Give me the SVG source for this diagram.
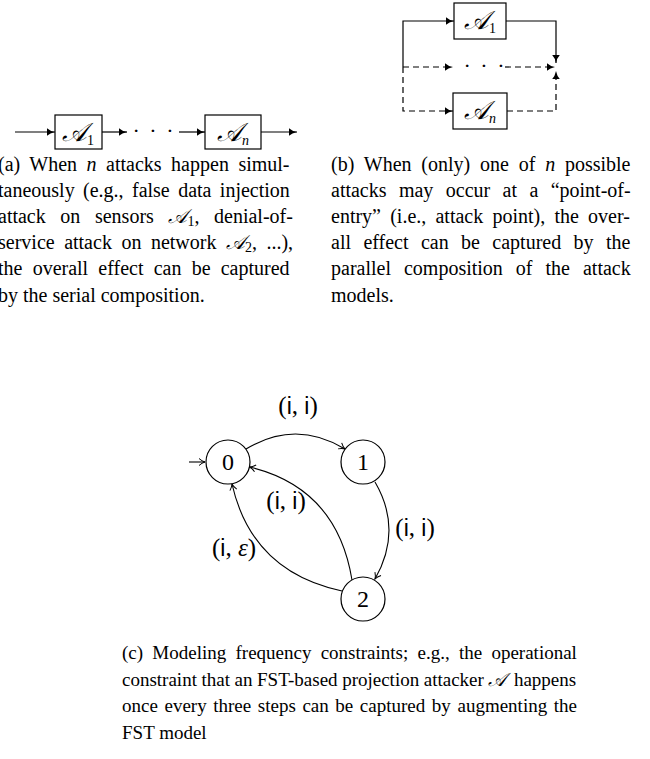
<svg xmlns="http://www.w3.org/2000/svg" width="650" height="759" viewBox="0 0 650 759">
<style>
  .cap { font-family: "Liberation Serif", "Times New Roman", serif; font-size: 20px; fill: #000; }
  .capc { font-family: "Liberation Serif", "Times New Roman", serif; font-size: 19px; fill: #000; }
  .it { font-style: italic; }
  .cal { font-family: "DejaVu Serif", "DejaVu Sans", "Noto Sans", serif; font-style: italic; }
  .sub { font-size: 14px; }
  .ln { fill: none; stroke: #000; stroke-width: 1.2; }
  .dash { stroke-dasharray: 6 4; }
  .box { fill: #fff; stroke: #000; stroke-width: 1.2; }
  .boxt { font-family: "DejaVu Serif", "DejaVu Sans", serif; font-style: italic; font-size: 26px; }
  .node { fill: #fff; stroke: #000; stroke-width: 1.2; }
  .nt { font-family: "Liberation Serif", serif; font-size: 24px; text-anchor: middle; }
  .lbl { font-family: "Liberation Serif", serif; font-size: 25px; text-anchor: middle; }
  .sans { font-family: "Liberation Sans", sans-serif; font-size: 23px; }
  .edge { fill: none; stroke: #000; stroke-width: 1.1; }
  .dots { font-family: "Liberation Serif", serif; font-size: 22px; text-anchor: middle; letter-spacing: 2px; }
</style>
<defs>
  <marker id="lat" markerWidth="10" markerHeight="10" refX="9" refY="5" orient="auto" markerUnits="userSpaceOnUse">
    <path d="M1,1.2 Q4,4 9,5 Q4,6 1,8.8 Z" fill="#000"/>
  </marker>
  <marker id="to" markerWidth="10" markerHeight="10" refX="8.5" refY="5" orient="auto" markerUnits="userSpaceOnUse">
    <path d="M2.5,1.5 Q5.5,4.2 8.5,5 Q5.5,5.8 2.5,8.5" fill="none" stroke="#000" stroke-width="1"/>
  </marker>
</defs>

<!-- (a) serial composition -->
<g id="a-connectors">
  <path class="ln" d="M15,132 H55" marker-end="url(#lat)"/>
  <path class="ln" d="M102,132 H127" marker-end="url(#lat)"/>
  <path class="ln" d="M179,132 H205" marker-end="url(#lat)"/>
  <path class="ln" d="M261,132 H297" marker-end="url(#lat)"/>
  <text x="154" y="138" class="dots">· · ·</text>
</g>
<g id="a-A1">
  <rect class="box" x="55" y="115" width="47" height="34"/>
  <text x="78" y="141" text-anchor="middle"><tspan class="boxt">𝒜</tspan><tspan class="cap sub" dy="4">1</tspan></text>
</g>
<g id="a-An">
  <rect class="box" x="205" y="115" width="56" height="34"/>
  <text x="233" y="141" text-anchor="middle"><tspan class="boxt">𝒜</tspan><tspan class="cap sub it" dy="4">n</tspan></text>
</g>

<!-- (b) parallel composition -->
<g id="b-connectors">
  <path class="ln" d="M403,67 V21 H454" marker-end="url(#lat)"/>
  <path class="ln" d="M506,21 H556 V63" marker-end="url(#lat)"/>
  <path class="ln dash" d="M403,67 H453" marker-end="url(#lat)"/>
  <path class="ln dash" d="M505,67 H555" marker-end="url(#lat)"/>
  <path class="ln dash" d="M403,67 V111 H453" marker-end="url(#lat)"/>
  <path class="ln dash" d="M507,111 H556 V71" marker-end="url(#lat)"/>
  <text x="485" y="73" class="dots">· · ·</text>
</g>
<g id="b-A1">
  <rect class="box" x="454" y="3" width="52" height="36"/>
  <text x="480" y="29" text-anchor="middle"><tspan class="boxt">𝒜</tspan><tspan class="cap sub" dy="4">1</tspan></text>
</g>
<g id="b-An">
  <rect class="box" x="453" y="93" width="54" height="36"/>
  <text x="480" y="119" text-anchor="middle"><tspan class="boxt">𝒜</tspan><tspan class="cap sub it" dy="4">n</tspan></text>
</g>

<!-- captions (a) -->
<g id="caption-a" class="cap">
  <text x="-2" y="171" word-spacing="4.5">(a) When <tspan class="it">n</tspan> attacks happen simul-</text>
  <text x="-2" y="197" word-spacing="3.4">taneously (e.g., false data injection</text>
  <text x="-2" y="223" word-spacing="9.6">attack on sensors <tspan class="cal">𝒜</tspan><tspan class="sub" dy="3">1</tspan><tspan dy="-3">, denial-of-</tspan></text>
  <text x="-2" y="249" word-spacing="4.5">service attack on network <tspan class="cal">𝒜</tspan><tspan class="sub" dy="3">2</tspan><tspan dy="-3">, ...),</tspan></text>
  <text x="-2" y="275" word-spacing="5.2">the overall effect can be captured</text>
  <text x="-2" y="302">by the serial composition.</text>
</g>

<!-- captions (b) -->
<g id="caption-b" class="cap">
  <text x="331" y="171" word-spacing="4.8">(b) When (only) one of <tspan class="it">n</tspan> possible</text>
  <text x="331" y="197" word-spacing="7.4">attacks may occur at a “point-of-</text>
  <text x="331" y="223" word-spacing="4.2">entry” (i.e., attack point), the over-</text>
  <text x="331" y="249" word-spacing="7.4">all effect can be captured by the</text>
  <text x="331" y="275" word-spacing="8.0">parallel composition of the attack</text>
  <text x="331" y="302">models.</text>
</g>

<!-- (c) FST graph -->
<g id="connectors">
  <path class="edge" d="M189,462 H205" marker-end="url(#to)"/>
  <path class="edge" d="M246,449 Q295.5,419 345,449" marker-end="url(#to)"/>
  <path class="edge" d="M375,482 Q403,530 375,579" marker-end="url(#to)"/>
  <path class="edge" d="M352,580 Q337,488 249.5,467" marker-end="url(#to)"/>
  <path class="edge" d="M342,591 Q252,572 232,484" marker-end="url(#to)"/>
  <text class="lbl" x="298" y="414">(<tspan class="sans">i</tspan>, <tspan class="sans">i</tspan>)</text>
  <text class="lbl" x="415" y="536">(<tspan class="sans">i</tspan>, <tspan class="sans">i</tspan>)</text>
  <text class="lbl" x="286" y="509">(<tspan class="sans">i</tspan>, <tspan class="sans">i</tspan>)</text>
  <text class="lbl" x="234" y="556">(<tspan class="sans">i</tspan>, <tspan class="it">ε</tspan>)</text>
</g>
<g id="node0">
  <circle class="node" cx="228" cy="462" r="22"/>
  <text class="nt" x="228" y="470">0</text>
</g>
<g id="node1">
  <circle class="node" cx="363" cy="462" r="22"/>
  <text class="nt" x="363" y="470">1</text>
</g>
<g id="node2">
  <circle class="node" cx="363" cy="599" r="22"/>
  <text class="nt" x="363" y="607">2</text>
</g>

<!-- caption (c) -->
<g id="caption-c" class="capc">
  <text x="122" y="659" word-spacing="4.5">(c) Modeling frequency constraints; e.g., the operational</text>
  <text x="122" y="686" word-spacing="-0.2">constraint that an FST-based projection attacker <tspan class="cal">𝒜</tspan><tspan dx="3"> happens</tspan></text>
  <text x="122" y="712" word-spacing="1.84">once every three steps can be captured by augmenting the</text>
  <text x="122" y="739">FST model</text>
</g>
</svg>
